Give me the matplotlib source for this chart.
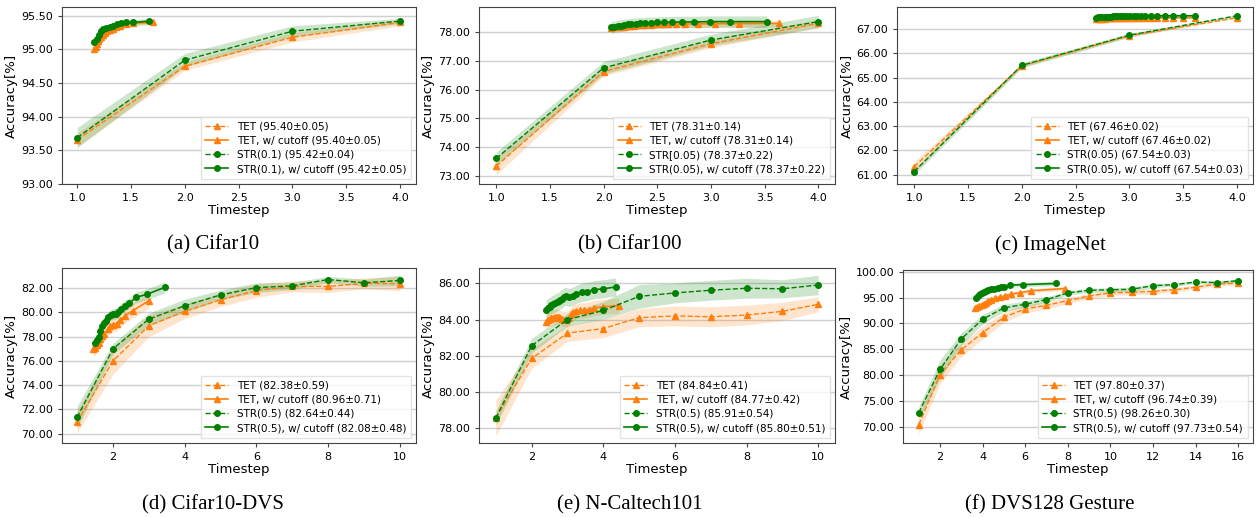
import matplotlib
matplotlib.use('Agg')
import matplotlib.pyplot as plt
from matplotlib.ticker import FormatStrFormatter

# ---------------- data ----------------
# (a) Cifar10
c10_t = [1, 2, 3, 4]
c10_tet = [93.66, 94.75, 95.18, 95.40]
c10_tet_sd = [0.10, 0.06, 0.07, 0.05]
c10_str = [93.69, 94.84, 95.27, 95.42]
c10_str_sd = [0.15, 0.10, 0.08, 0.04]
c10_tet_cut_t = [1.16, 1.17, 1.18, 1.19, 1.20, 1.22, 1.24, 1.26, 1.28, 1.30, 1.33, 1.36, 1.40, 1.45, 1.52, 1.70]
c10_tet_cut = [95.00, 95.04, 95.08, 95.12, 95.15, 95.19, 95.22, 95.25, 95.27, 95.29, 95.31, 95.33, 95.35, 95.37, 95.39, 95.40]
c10_str_cut_t = [1.16, 1.18, 1.20, 1.22, 1.24, 1.27, 1.30, 1.33, 1.37, 1.41, 1.45, 1.52, 1.67]
c10_str_cut = [95.11, 95.16, 95.21, 95.27, 95.31, 95.32, 95.33, 95.35, 95.37, 95.39, 95.40, 95.40, 95.42]
c10_labels = ['TET (95.40±0.05)', 'TET, w/ cutoff (95.40±0.05)',
              'STR(0.1) (95.42±0.04)', 'STR(0.1), w/ cutoff (95.42±0.05)']

# (b) Cifar100
c100_t = [1, 2, 3, 4]
c100_tet = [73.33, 76.63, 77.60, 78.31]
c100_tet_sd = [0.30, 0.15, 0.14, 0.14]
c100_str = [73.60, 76.76, 77.73, 78.37]
c100_str_sd = [0.22, 0.22, 0.20, 0.22]
c100_tet_cut_t = [2.07, 2.10, 2.13, 2.16, 2.19, 2.22, 2.25, 2.28, 2.31, 2.35, 2.39, 2.44, 2.49, 2.54,
                  2.60, 2.67, 2.76, 2.88, 3.04, 3.26, 3.63]
c100_tet_cut = [78.15, 78.17, 78.18, 78.19, 78.20, 78.21, 78.22, 78.23, 78.24, 78.25, 78.25, 78.26, 78.27, 78.27,
                78.28, 78.28, 78.29, 78.29, 78.30, 78.30, 78.31]
c100_str_cut_t = [2.07, 2.10, 2.13, 2.16, 2.19, 2.23, 2.26, 2.30, 2.34, 2.39, 2.44, 2.50, 2.56, 2.64,
                  2.73, 2.84, 2.99, 3.18, 3.52]
c100_str_cut = [78.17, 78.19, 78.21, 78.23, 78.25, 78.27, 78.28, 78.30, 78.31, 78.32, 78.33, 78.34, 78.34, 78.35,
                78.36, 78.36, 78.37, 78.37, 78.37]
c100_labels = ['TET (78.31±0.14)', 'TET, w/ cutoff (78.31±0.14)',
               'STR[0.05) (78.37±0.22)', 'STR(0.05), w/ cutoff (78.37±0.22)']

# (c) ImageNet
in_t = [1, 2, 3, 4]
in_tet = [61.33, 65.48, 66.72, 67.46]
in_tet_sd = [0.20, 0.06, 0.05, 0.02]
in_str = [61.13, 65.50, 66.74, 67.54]
in_str_sd = [0.12, 0.10, 0.08, 0.03]
in_cut_t = [2.69, 2.71, 2.73, 2.75, 2.77, 2.79, 2.81, 2.83, 2.85, 2.87, 2.89, 2.91, 2.93, 2.95,
            2.98, 3.01, 3.04, 3.07, 3.11, 3.15, 3.20, 3.26, 3.33, 3.41, 3.50, 3.61]
in_tet_cut = [67.40, 67.41, 67.41, 67.42, 67.42, 67.43, 67.43, 67.43, 67.44, 67.44, 67.44, 67.44, 67.45, 67.45,
              67.45, 67.45, 67.45, 67.46, 67.46, 67.46, 67.46, 67.46, 67.46, 67.46, 67.46, 67.46]
in_str_cut = [67.46, 67.47, 67.48, 67.48, 67.49, 67.49, 67.50, 67.50, 67.51, 67.51, 67.51, 67.52, 67.52, 67.52,
              67.52, 67.53, 67.53, 67.53, 67.53, 67.54, 67.54, 67.54, 67.54, 67.54, 67.54, 67.54]
in_labels = ['TET (67.46±0.02)', 'TET, w/ cutoff (67.46±0.02)',
             'STR(0.05) (67.54±0.03)', 'STR(0.05), w/ cutoff (67.54±0.03)']

# (d) Cifar10-DVS
dvs_t = [1, 2, 3, 4, 5, 6, 7, 8, 9, 10]
dvs_tet = [70.95, 76.00, 78.90, 80.10, 81.05, 81.80, 82.15, 82.15, 82.40, 82.38]
dvs_tet_sd = [0.90, 1.10, 0.90, 0.60, 0.55, 0.55, 0.45, 0.50, 0.45, 0.59]
dvs_str = [71.35, 77.00, 79.45, 80.55, 81.45, 82.05, 82.20, 82.72, 82.45, 82.64]
dvs_str_sd = [0.90, 0.45, 0.50, 0.55, 0.40, 0.40, 0.30, 0.25, 0.30, 0.44]
dvs_tet_cut_t = [1.45, 1.50, 1.55, 1.60, 1.65, 1.70, 1.75, 1.85, 1.92, 2.00, 2.10, 2.20, 2.35, 2.55, 3.00]
dvs_tet_cut = [76.95, 77.10, 77.30, 77.50, 77.80, 78.05, 78.25, 78.60, 78.85, 79.00, 79.05, 79.40, 79.75, 80.15, 80.96]
dvs_str_cut_t = [1.50, 1.55, 1.60, 1.65, 1.70, 1.75, 1.80, 1.87, 1.95, 2.00, 2.08, 2.15, 2.22, 2.33,
                 2.45, 2.65, 2.95, 3.45]
dvs_str_cut = [77.50, 77.70, 78.00, 78.50, 78.90, 79.15, 79.30, 79.60, 79.80, 79.85, 79.90, 80.00, 80.30, 80.55,
               80.75, 81.25, 81.50, 82.08]
dvs_labels = ['TET (82.38±0.59)', 'TET, w/ cutoff (80.96±0.71)',
              'STR(0.5) (82.64±0.44)', 'STR(0.5), w/ cutoff (82.08±0.48)']

# (e) N-Caltech101
nc_t = [1, 2, 3, 4, 5, 6, 7, 8, 9, 10]
nc_tet = [78.55, 81.85, 83.25, 83.50, 84.10, 84.20, 84.15, 84.25, 84.45, 84.84]
nc_tet_sd = [1.00, 0.55, 0.45, 0.50, 0.50, 0.55, 0.55, 0.55, 0.50, 0.41]
nc_str = [78.55, 82.55, 84.00, 84.50, 85.28, 85.47, 85.62, 85.73, 85.70, 85.91]
nc_str_sd = [0.40, 0.40, 0.35, 0.50, 0.65, 0.55, 0.55, 0.55, 0.50, 0.54]
nc_tet_cut_t = [2.40, 2.45, 2.50, 2.55, 2.60, 2.65, 2.70, 2.75, 2.80, 2.85, 2.95, 3.05, 3.10, 3.15,
                3.25, 3.35, 3.45, 3.60, 3.75, 4.00, 4.43]
nc_tet_cut = [83.88, 84.00, 84.05, 84.08, 84.10, 84.15, 84.15, 84.12, 84.10, 84.05, 84.00, 84.10, 84.30, 84.40,
              84.45, 84.50, 84.50, 84.55, 84.65, 84.70, 84.77]
nc_str_cut_t = [2.40, 2.45, 2.50, 2.55, 2.60, 2.65, 2.70, 2.75, 2.80, 2.85, 2.90, 2.95, 3.05, 3.15,
                3.25, 3.40, 3.55, 3.75, 4.00, 4.35]
nc_str_cut = [84.55, 84.65, 84.72, 84.80, 84.85, 84.90, 84.95, 85.00, 85.10, 85.15, 85.25, 85.28, 85.22, 85.30,
              85.40, 85.50, 85.55, 85.65, 85.70, 85.80]
nc_labels = ['TET (84.84±0.41)', 'TET, w/ cutoff (84.77±0.42)',
             'STR(0.5) (85.91±0.54)', 'STR(0.5), w/ cutoff (85.80±0.51)']

# (f) DVS128 Gesture
g_t = [1, 2, 3, 4, 5, 6, 7, 8, 9, 10, 11, 12, 13, 14, 15, 16]
g_tet = [70.4, 80.1, 84.9, 88.2, 91.2, 92.8, 93.5, 94.4, 95.3, 95.9, 96.0, 96.2, 96.5, 97.0, 97.6, 97.8]
g_tet_sd = [1.8, 1.8, 1.3, 1.2, 1.0, 0.8, 0.7, 0.6, 0.5, 0.5, 0.5, 0.5, 0.4, 0.4, 0.4, 0.37]
g_str = [72.7, 81.1, 87.0, 90.8, 93.0, 93.7, 94.6, 95.9, 96.4, 96.5, 96.6, 97.3, 97.5, 98.0, 97.9, 98.26]
g_str_sd = [1.2, 1.8, 1.2, 0.9, 0.7, 0.6, 0.5, 0.4, 0.4, 0.4, 0.4, 0.4, 0.3, 0.3, 0.3, 0.30]
g_tet_cut_t = [3.65, 3.75, 3.85, 3.95, 4.05, 4.15, 4.25, 4.40, 4.60, 4.80, 5.05, 5.35, 5.75, 6.25, 7.85]
g_tet_cut = [92.9, 93.1, 93.3, 93.5, 93.8, 94.0, 94.3, 94.6, 94.9, 95.1, 95.3, 95.7, 95.9, 96.3, 96.74]
g_str_cut_t = [3.70, 3.78, 3.86, 3.95, 4.05, 4.15, 4.25, 4.40, 4.55, 4.70, 4.85, 5.00, 5.30, 5.90, 7.45]
g_str_cut = [95.0, 95.3, 95.6, 95.9, 96.1, 96.3, 96.5, 96.6, 96.7, 96.9, 97.0, 97.1, 97.4, 97.5, 97.73]
g_labels = ['TET (97.80±0.37)', 'TET, w/ cutoff (96.74±0.39)',
            'STR(0.5) (98.26±0.30)', 'STR(0.5), w/ cutoff (97.73±0.54)']

ORANGE = '#ff7f0e'
GREEN = 'green'


def band(ax, x, y, sd, color):
    if isinstance(sd, (int, float)):
        sd = [sd] * len(y)
    lo = [a - b for a, b in zip(y, sd)]
    hi = [a + b for a, b in zip(y, sd)]
    ax.fill_between(x, lo, hi, color=color, alpha=0.2, linewidth=0)


def panel(ax, t, tet, tet_sd, strv, str_sd, tc_t, tc, tc_sd, sc_t, sc, sc_sd, labels):
    band(ax, t, tet, tet_sd, ORANGE)
    band(ax, tc_t, tc, tc_sd, ORANGE)
    band(ax, t, strv, str_sd, GREEN)
    band(ax, sc_t, sc, sc_sd, GREEN)
    ax.plot(t, tet, '--', marker='^', color=ORANGE, lw=1, ms=4, label=labels[0])
    ax.plot(tc_t, tc, '-', marker='^', color=ORANGE, lw=1.2, ms=4, label=labels[1])
    ax.plot(t, strv, '--', marker='o', color=GREEN, lw=1, ms=4, label=labels[2])
    ax.plot(sc_t, sc, '-', marker='o', color=GREEN, lw=1.2, ms=4, label=labels[3])
    ax.grid(axis='y', color='#d0d0d0', lw=1)
    ax.set_axisbelow(True)
    ax.yaxis.set_major_formatter(FormatStrFormatter('%.2f'))
    ax.tick_params(labelsize=8, length=3, color='#444444')
    for s in ax.spines.values():
        s.set_color('#444444')
        s.set_linewidth(0.8)
    ax.set_xlabel('Timestep', fontsize=9.5, labelpad=1)
    ax.set_ylabel('Accuracy[%]', fontsize=9.5, labelpad=2)
    ax.legend(loc='lower right', fontsize=7.5, framealpha=0.8, handlelength=2.2,
              borderpad=0.45, labelspacing=0.4, fancybox=False, edgecolor='#dddddd')


fig = plt.figure(figsize=(12.6, 5.17), dpi=100)
W, H = 1260, 517


def axes_px(left, top, right, bottom):
    return fig.add_axes([left / W, 1 - bottom / H, (right - left) / W, (bottom - top) / H])


ax_a = axes_px(62, 7, 416, 184)
ax_b = axes_px(479, 7, 835, 184)
ax_c = axes_px(897, 7, 1253, 184)
ax_d = axes_px(62, 268, 416, 443)
ax_e = axes_px(479, 268, 835, 443)
ax_f = axes_px(903, 270, 1253, 443)

panel(ax_a, c10_t, c10_tet, c10_tet_sd, c10_str, c10_str_sd,
      c10_tet_cut_t, c10_tet_cut, 0.04, c10_str_cut_t, c10_str_cut, 0.04, c10_labels)
ax_a.set_xlim(0.858, 4.15)
ax_a.set_ylim(93.0, 95.63)
ax_a.set_yticks([93.0, 93.5, 94.0, 94.5, 95.0, 95.5])
ax_a.set_xticks([1.0, 1.5, 2.0, 2.5, 3.0, 3.5, 4.0])
ax_a.xaxis.set_major_formatter(FormatStrFormatter('%.1f'))

panel(ax_b, c100_t, c100_tet, c100_tet_sd, c100_str, c100_str_sd,
      c100_tet_cut_t, c100_tet_cut, 0.12, c100_str_cut_t, c100_str_cut, 0.2, c100_labels)
ax_b.set_xlim(0.84, 4.155)
ax_b.set_ylim(72.71, 78.88)
ax_b.set_yticks([73, 74, 75, 76, 77, 78])
ax_b.set_xticks([1.0, 1.5, 2.0, 2.5, 3.0, 3.5, 4.0])
ax_b.xaxis.set_major_formatter(FormatStrFormatter('%.1f'))

panel(ax_c, in_t, in_tet, in_tet_sd, in_str, in_str_sd,
      in_cut_t, in_tet_cut, 0.03, in_cut_t, in_str_cut, 0.03, in_labels)
ax_c.set_xlim(0.84, 4.15)
ax_c.set_ylim(60.62, 67.9)
ax_c.set_yticks([61, 62, 63, 64, 65, 66, 67])
ax_c.set_xticks([1.0, 1.5, 2.0, 2.5, 3.0, 3.5, 4.0])
ax_c.xaxis.set_major_formatter(FormatStrFormatter('%.1f'))

panel(ax_d, dvs_t, dvs_tet, dvs_tet_sd, dvs_str, dvs_str_sd,
      dvs_tet_cut_t, dvs_tet_cut, 0.6, dvs_str_cut_t, dvs_str_cut, 0.45, dvs_labels)
ax_d.set_xlim(0.58, 10.45)
ax_d.set_ylim(69.23, 83.67)
ax_d.set_yticks([70, 72, 74, 76, 78, 80, 82])
ax_d.set_xticks([2, 4, 6, 8, 10])

panel(ax_e, nc_t, nc_tet, nc_tet_sd, nc_str, nc_str_sd,
      nc_tet_cut_t, nc_tet_cut, 0.42, nc_str_cut_t, nc_str_cut, 0.5, nc_labels)
ax_e.set_xlim(0.53, 10.47)
ax_e.set_ylim(77.17, 86.85)
ax_e.set_yticks([78, 80, 82, 84, 86])
ax_e.set_xticks([2, 4, 6, 8, 10])

panel(ax_f, g_t, g_tet, g_tet_sd, g_str, g_str_sd,
      g_tet_cut_t, g_tet_cut, 0.4, g_str_cut_t, g_str_cut, 0.4, g_labels)
ax_f.set_xlim(0.26, 16.7)
ax_f.set_ylim(66.84, 100.33)
ax_f.set_yticks([70, 75, 80, 85, 90, 95, 100])
ax_f.set_xticks([2, 4, 6, 8, 10, 12, 14, 16])

captions = [('(a) Cifar10', 213, 245), ('(b) Cifar100', 630, 245), ('(c) ImageNet', 1050, 245),
            ('(d) Cifar10-DVS', 213, 505), ('(e) N-Caltech101', 630, 505), ('(f) DVS128 Gesture', 1050, 505)]
for txt, cx, cy in captions:
    fig.text(cx / W, 1 - cy / H, txt, ha='center', va='center', fontsize=15, family='Liberation Serif')

fig.savefig('out.png', dpi=100)
